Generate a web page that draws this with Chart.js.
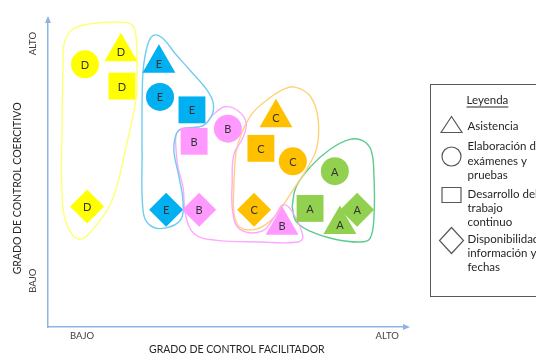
<!DOCTYPE html>
<html>
<head>
<meta charset="utf-8">
<script src="https://cdn.jsdelivr.net/npm/chart.js@4/dist/chart.umd.min.js"></script>
<style>
  body { margin: 0; background: #fff; }
  canvas { display: block; }
</style>
</head>
<body>
<canvas id="myChart" width="536" height="354"></canvas>
<script>
// shape order for every group: triangle, circle, square, diamond
const shapes = ['triangle', 'circle', 'rect', 'rectRot'];
const letters = ['A', 'B', 'C', 'D', 'E'];

const aX = [81.3, 79.9, 73.0, 86.1];
const aY = [33.3, 50.6, 38.5, 38.1];
const bX = [65.2, 50.1, 40.7, 42.1];
const bY = [33.0, 64.4, 60.3, 38.1];
const cX = [63.5, 68.2, 59.3, 57.4];
const cY = [67.9, 53.8, 58.0, 38.1];
const dX = [20.3, 10.3, 20.6, 10.9];
const dY = [89.4, 85.3, 78.2, 39.1];
const eX = [30.9, 31.2, 40.1, 32.9];
const eY = [85.6, 74.7, 70.5, 38.1];

// outlines around each group (closed loops)
const yellowX = [3.9, 4.2, 4.5, 6.7, 11.7, 20.1, 23.4, 24.5, 24.8, 24.5, 21.4, 19.5, 17.3, 13.6, 8.9, 5.3, 3.9, 3.9];
const yellowY = [66.3, 85.6, 92.0, 96.5, 98.4, 99.0, 98.1, 94.6, 83.3, 73.7, 56.7, 47.1, 39.7, 33.3, 28.5, 33.0, 43.9, 66.3];
const blueX = [26.2, 26.5, 27.6, 29.2, 31.8, 35.4, 39.6, 44.3, 46.0, 45.7, 43.2, 36.8, 35.4, 35.1, 36.5, 37.6, 37.0, 32.6, 28.4, 26.5, 26.2, 26.2];
const blueY = [72.8, 83.3, 91.0, 94.6, 93.9, 88.8, 83.3, 76.9, 72.8, 68.9, 65.4, 64.1, 61.5, 56.7, 48.7, 40.7, 34.9, 32.1, 33.0, 37.5, 56.7, 72.8];
const pinkX = [35.7, 35.7, 37.3, 43.2, 46.0, 49.3, 52.9, 55.2, 54.3, 51.8, 51.3, 51.5, 53.5, 59.6, 63.2, 65.5, 68.0, 71.0, 69.6, 59.1, 46.5, 40.9, 38.4, 37.6, 36.2, 35.7];
const pinkY = [56.7, 62.5, 64.4, 65.4, 68.9, 71.5, 70.2, 66.3, 61.5, 56.1, 47.1, 36.9, 31.7, 31.1, 35.9, 39.7, 37.5, 29.5, 27.6, 27.6, 28.2, 30.1, 35.9, 45.5, 51.9, 56.7];
const orangeX = [51.8, 52.4, 54.0, 57.1, 61.8, 65.7, 68.8, 73.0, 75.2, 74.9, 72.1, 68.8, 65.2, 61.8, 57.7, 53.5, 51.8, 51.8];
const orangeY = [47.1, 56.7, 63.1, 69.6, 74.4, 77.2, 77.9, 75.0, 67.9, 58.3, 51.3, 45.5, 39.1, 34.3, 31.7, 32.4, 36.9, 47.1];
const greenX = [68.0, 69.1, 73.0, 78.6, 84.1, 87.5, 90.0, 90.8, 90.8, 89.7, 86.9, 79.9, 73.0, 69.1, 68.0];
const greenY = [39.1, 45.5, 51.9, 57.7, 60.9, 60.6, 57.4, 48.7, 35.9, 28.8, 27.6, 28.5, 31.1, 34.3, 39.1];

const legendTitle = 'Leyenda';
const legendShapes = ['triangle', 'circle', 'rect', 'rectRot'];
const legendLabels = [
  ['Asistencia'],
  ['Elaboración de', 'exámenes y', 'pruebas'],
  ['Desarrollo del', 'trabajo', 'continuo'],
  ['Disponibilidad de', 'información y', 'fechas']
];

const xTicks = [{ value: 9.5, label: 'BAJO' }, { value: 94.5, label: 'ALTO' }];
const yTicks = [{ value: 92, label: 'ALTO' }, { value: 15, label: 'BAJO' }];
const xTitle = 'GRADO DE CONTROL FACILITADOR';
const yTitle = 'GRADO DE CONTROL COERCITIVO';

const FONT = 'Lato, "Open Sans", sans-serif';

function toPoints(xs, ys) {
  return xs.map((x, i) => ({ x: x, y: ys[i] }));
}

const groups = [
  { x: aX, y: aY, color: '#92D050' },
  { x: bX, y: bY, color: '#FF99FF' },
  { x: cX, y: cY, color: '#FFC000' },
  { x: dX, y: dY, color: '#FFFF00' },
  { x: eX, y: eY, color: '#00B0F0' }
];
const markerRadius = [19, 14, 19, 17];

const outlines = [
  { x: yellowX, y: yellowY, color: '#FFFF70' },
  { x: blueX, y: blueY, color: '#6FCDF0' },
  { x: pinkX, y: pinkY, color: '#FFA8FF' },
  { x: orangeX, y: orangeY, color: '#FFD27A' },
  { x: greenX, y: greenY, color: '#5CCB8C' }
];

const datasets = [];
groups.forEach((g, i) => {
  datasets.push({
    label: letters[i],
    data: toPoints(g.x, g.y),
    pointStyle: shapes,
    pointRadius: markerRadius,
    pointHoverRadius: markerRadius,
    backgroundColor: g.color,
    borderWidth: 0,
    pointBorderWidth: 0,
    showLine: false,
    clip: false
  });
});
outlines.forEach(o => {
  datasets.push({
    label: 'outline',
    data: toPoints(o.x, o.y),
    showLine: true,
    tension: 0.4,
    borderColor: o.color,
    borderWidth: 1.4,
    pointRadius: 0,
    pointHoverRadius: 0,
    fill: false,
    clip: false
  });
});

const extras = {
  id: 'extras',
  afterDatasetsDraw(chart) {
    const ctx = chart.ctx;
    ctx.save();
    ctx.font = '11px ' + FONT;
    ctx.fillStyle = '#333333';
    ctx.textAlign = 'center';
    ctx.textBaseline = 'middle';
    groups.forEach((g, i) => {
      chart.getDatasetMeta(i).data.forEach(pt => {
        ctx.fillText(letters[i], pt.x, pt.y + 1);
      });
    });
    ctx.restore();
  },
  afterDraw(chart) {
    const ctx = chart.ctx;
    const area = chart.chartArea;
    const xs = chart.scales.x;
    const ys = chart.scales.y;
    ctx.save();

    // arrow heads
    ctx.fillStyle = '#8DB4E2';
    ctx.beginPath();
    ctx.moveTo(area.left, area.top - 3);
    ctx.lineTo(area.left - 3, area.top + 4);
    ctx.lineTo(area.left + 3, area.top + 4);
    ctx.closePath();
    ctx.fill();
    ctx.beginPath();
    ctx.moveTo(area.right + 3, area.bottom);
    ctx.lineTo(area.right - 4, area.bottom - 3);
    ctx.lineTo(area.right - 4, area.bottom + 3);
    ctx.closePath();
    ctx.fill();

    // tick labels
    ctx.fillStyle = '#404040';
    ctx.font = '9.5px ' + FONT;
    ctx.textAlign = 'center';
    ctx.textBaseline = 'middle';
    xTicks.forEach(t => ctx.fillText(t.label, xs.getPixelForValue(t.value), area.bottom + 9));
    yTicks.forEach(t => {
      ctx.save();
      ctx.translate(area.left - 15, ys.getPixelForValue(t.value));
      ctx.rotate(-Math.PI / 2);
      ctx.fillText(t.label, 0, 0);
      ctx.restore();
    });

    // axis titles
    ctx.fillStyle = '#262626';
    ctx.font = '10.5px ' + FONT;
    ctx.fillText(xTitle, xs.getPixelForValue(52.6), area.bottom + 23);
    ctx.save();
    ctx.translate(area.left - 30, ys.getPixelForValue(45));
    ctx.rotate(-Math.PI / 2);
    ctx.fillText(yTitle, 0, 0);
    ctx.restore();

    // legend box
    const bx = area.right + 23.5;
    const by = 84.5;
    ctx.strokeStyle = '#595959';
    ctx.lineWidth = 1;
    ctx.strokeRect(bx, by, 140, 212);

    ctx.fillStyle = '#262626';
    ctx.font = '11.5px ' + FONT;
    ctx.textAlign = 'left';
    const tw = ctx.measureText(legendTitle).width;
    ctx.fillText(legendTitle, bx + 36, by + 16);
    ctx.fillRect(bx + 36, by + 22, tw, 1);

    const rowY = [43, 62, 110, 156];
    ctx.strokeStyle = '#595959';
    ctx.lineWidth = 1.2;
    legendShapes.forEach((s, i) => {
      const cx = bx + 21;
      const cy = by + rowY[i];
      ctx.beginPath();
      if (s === 'triangle') {
        ctx.moveTo(cx - 10.5, cy + 5);
        ctx.lineTo(cx, cy - 11);
        ctx.lineTo(cx + 10.5, cy + 5);
        ctx.closePath();
      } else if (s === 'circle') {
        ctx.arc(cx, cy + 10, 9.5, 0, Math.PI * 2);
      } else if (s === 'rect') {
        ctx.rect(cx - 9.5, cy - 7, 19, 15);
      } else {
        ctx.moveTo(cx, cy - 13);
        ctx.lineTo(cx + 12, cy);
        ctx.lineTo(cx, cy + 13);
        ctx.lineTo(cx - 12, cy);
        ctx.closePath();
      }
      ctx.stroke();
    });

    const textY = [[42], [62, 77, 91], [110, 124, 138], [155, 169, 183]];
    legendLabels.forEach((lines, i) => {
      lines.forEach((line, j) => ctx.fillText(line, bx + 37, by + textY[i][j]));
    });

    ctx.restore();
  }
};

const ctx = document.getElementById('myChart').getContext('2d');
const myChart = new Chart(ctx, {
  type: 'scatter',
  data: { datasets: datasets },
  options: {
    responsive: false,
    animation: false,
    events: [],
    layout: { padding: { left: 48, top: 15, right: 129, bottom: 27 } },
    elements: { line: { capBezierPoints: false } },
    plugins: {
      legend: { display: false },
      tooltip: { enabled: false }
    },
    scales: {
      x: {
        min: 0, max: 100,
        grid: { display: false, drawTicks: false },
        ticks: { display: false },
        border: { display: true, color: '#8DB4E2', width: 1.5 }
      },
      y: {
        min: 0, max: 100,
        grid: { display: false, drawTicks: false },
        ticks: { display: false },
        border: { display: true, color: '#8DB4E2', width: 1.5 }
      }
    }
  },
  plugins: [extras]
});
</script>
</body>
</html>
